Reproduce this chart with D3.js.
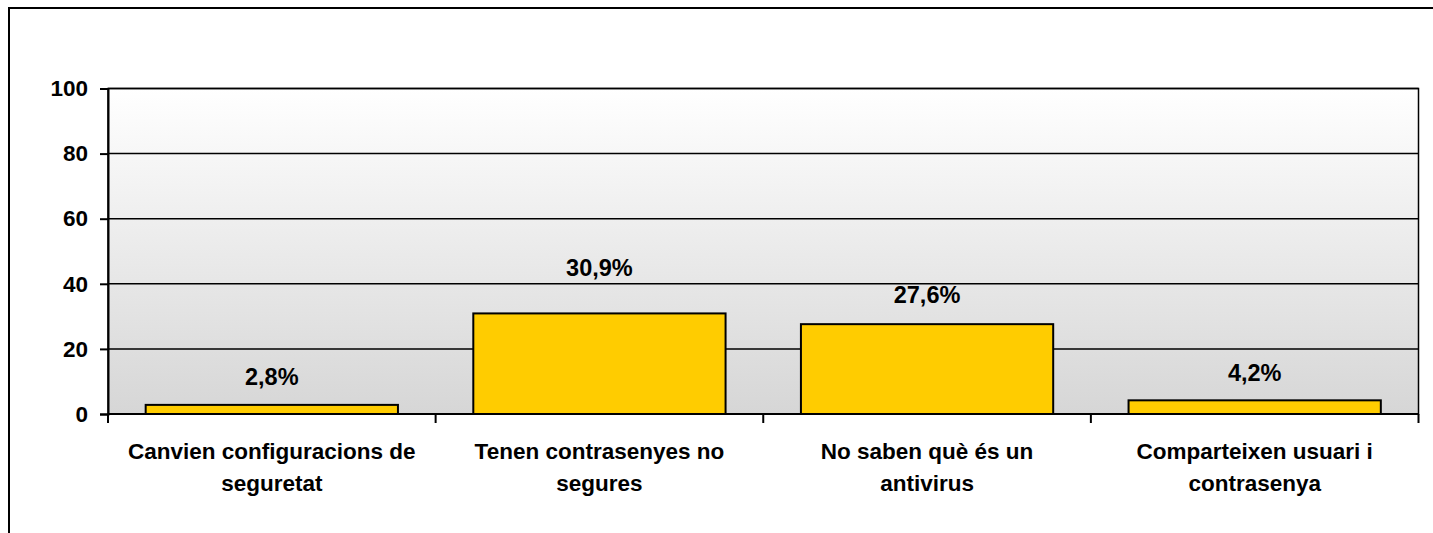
<!DOCTYPE html>
<html>
<head>
<meta charset="utf-8">
<script src="https://cdn.jsdelivr.net/npm/d3@7"></script>
<style>
  html, body { margin: 0; padding: 0; background: #fff; }
  svg { display: block; }
  text { font-family: "Liberation Sans", Arial, sans-serif; font-weight: bold; fill: #000; }
</style>
</head>
<body>
<svg id="chart" width="1433" height="533"></svg>
<script>
// ---- data ----
const categories = [
  ["Canvien configuracions de", "seguretat"],
  ["Tenen contrasenyes no", "segures"],
  ["No saben què és un", "antivirus"],
  ["Comparteixen usuari i", "contrasenya"]
];
const values = [2.8, 30.9, 27.6, 4.2];
const valueLabels = ["2,8%", "30,9%", "27,6%", "4,2%"];
const yTicks = [0, 20, 40, 60, 80, 100];
const labelGaps = [20, 37, 21, 19];

// ---- layout ----
const svg = d3.select("#chart");
const plot = { left: 108, right: 1418.5, top: 88.5, bottom: 414 };

// outer frame
svg.append("rect")
  .attr("x", 9).attr("y", 8).attr("width", 1460).attr("height", 620)
  .attr("fill", "#fff").attr("stroke", "#000").attr("stroke-width", 2);

const x = d3.scaleBand()
  .domain(d3.range(categories.length))
  .range([plot.left, plot.right])
  .paddingInner(0.23).paddingOuter(0.115);

const y = d3.scaleLinear().domain([0, 100]).range([plot.bottom, plot.top]);

// gradient background
const defs = svg.append("defs");
const grad = defs.append("linearGradient").attr("id", "bg")
  .attr("x1", 0).attr("y1", 0).attr("x2", 0).attr("y2", 1);
grad.append("stop").attr("offset", "0%").attr("stop-color", "#ffffff");
grad.append("stop").attr("offset", "100%").attr("stop-color", "#d6d6d6");

svg.append("rect")
  .attr("x", plot.left).attr("y", plot.top)
  .attr("width", plot.right - plot.left).attr("height", plot.bottom - plot.top)
  .attr("fill", "url(#bg)");

// gridlines
svg.append("g").selectAll("line").data(yTicks.filter(d => d > 0)).join("line")
  .attr("x1", plot.left).attr("x2", plot.right)
  .attr("y1", d => y(d)).attr("y2", d => y(d))
  .attr("stroke", "#000").attr("stroke-width", 1.5);

// bars
svg.append("g").selectAll("rect").data(values).join("rect")
  .attr("x", (d, i) => x(i))
  .attr("y", d => y(d))
  .attr("width", x.bandwidth())
  .attr("height", d => y(0) - y(d))
  .attr("fill", "#ffcc00")
  .attr("stroke", "#000").attr("stroke-width", 2);

// plot border (right & top)
svg.append("rect")
  .attr("x", plot.left).attr("y", plot.top)
  .attr("width", plot.right - plot.left).attr("height", plot.bottom - plot.top)
  .attr("fill", "none").attr("stroke", "#000").attr("stroke-width", 1.5);

// y axis
const yAxis = d3.axisLeft(y).tickValues(yTicks).tickSize(8).tickPadding(12)
  .tickFormat(d3.format("d"));
const gy = svg.append("g").attr("transform", `translate(${plot.left},0)`).call(yAxis);
gy.select(".domain").attr("stroke", "#000").attr("stroke-width", 2);
gy.selectAll(".tick line").attr("stroke", "#000").attr("stroke-width", 2);
gy.selectAll(".tick text")
  .style("font-size", "22.5px").style("font-family", '"Liberation Sans", Arial, sans-serif')
  .style("font-weight", "bold").attr("fill", "#000");

// x axis baseline + ticks at category boundaries
const boundaries = d3.range(categories.length + 1).map(i =>
  i === 0 ? plot.left : (i === categories.length ? plot.right : x(i) - x.step() * x.paddingInner() / 2));
svg.append("line")
  .attr("x1", plot.left).attr("x2", plot.right)
  .attr("y1", y(0)).attr("y2", y(0))
  .attr("stroke", "#000").attr("stroke-width", 2);
svg.append("g").selectAll("line").data(boundaries).join("line")
  .attr("x1", d => d).attr("x2", d => d)
  .attr("y1", y(0)).attr("y2", y(0) + 9)
  .attr("stroke", "#000").attr("stroke-width", 2);

// category labels
const cat = svg.append("g").selectAll("text").data(categories).join("text")
  .attr("x", (d, i) => x(i) + x.bandwidth() / 2)
  .attr("y", 459)
  .attr("text-anchor", "middle")
  .style("font-size", "22.5px");
cat.selectAll("tspan").data(d => d).join("tspan")
  .attr("x", function() { return d3.select(this.parentNode).attr("x"); })
  .attr("dy", (d, i) => i === 0 ? 0 : 32)
  .text(d => d);

// value labels
svg.append("g").selectAll("text").data(values).join("text")
  .attr("x", (d, i) => x(i) + x.bandwidth() / 2)
  .attr("y", (d, i) => y(d) - labelGaps[i])
  .attr("text-anchor", "middle")
  .style("font-size", "23.5px")
  .text((d, i) => valueLabels[i]);
</script>
</body>
</html>
